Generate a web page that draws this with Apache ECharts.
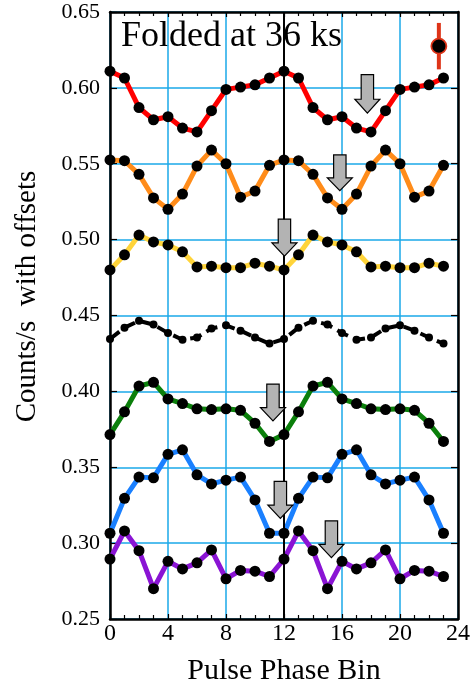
<!DOCTYPE html>
<html>
<head>
<meta charset="utf-8">
<script src="https://cdn.jsdelivr.net/npm/echarts@6/dist/echarts.min.js"></script>
<style>
html,body{margin:0;padding:0;background:#fff;}
#chart{width:473px;height:691px;}
</style>
</head>
<body>
<div id="chart"></div>
<script>
// ---- data ----
const bins = [0,1,2,3,4,5,6,7,8,9,10,11,12,13,14,15,16,17,18,19,20,21,22,23];
const xTicks = [0,4,8,12,16,20,24];
const yTicks = [0.25,0.30,0.35,0.40,0.45,0.50,0.55,0.60,0.65];

const redVals    = [0.611,0.6065,0.587,0.579,0.581,0.5735,0.571,0.585,0.599,0.6005,0.602,0.6065,
                    0.611,0.6065,0.587,0.579,0.581,0.5735,0.571,0.585,0.599,0.6005,0.602,0.6065];
const orangeVals = [0.5525,0.552,0.543,0.5275,0.520,0.530,0.5485,0.559,0.550,0.528,0.532,0.549,
                    0.5525,0.552,0.543,0.5275,0.520,0.530,0.5485,0.559,0.550,0.528,0.532,0.549];
const yellowVals = [0.480,0.490,0.503,0.4985,0.4965,0.492,0.482,0.4825,0.4815,0.4815,0.4845,0.4825,
                    0.480,0.490,0.503,0.4985,0.4965,0.492,0.482,0.4825,0.4815,0.4815,0.4845,0.4825];
const blackVals  = [0.4345,0.442,0.4465,0.444,0.4385,0.434,0.4355,0.4415,0.4435,0.440,0.4355,0.4315,
                    0.4345,0.442,0.4465,0.444,0.4385,0.434,0.4355,0.4415,0.4435,0.440,0.4355,0.4315];
const greenVals  = [0.3715,0.3865,0.4035,0.406,0.395,0.392,0.3885,0.388,0.3885,0.3875,0.379,0.367,
                    0.3715,0.3865,0.4035,0.406,0.395,0.392,0.3885,0.388,0.3885,0.3875,0.379,0.367];
const blueVals   = [0.3065,0.3295,0.3435,0.343,0.3585,0.3615,0.345,0.339,0.3415,0.3435,0.3285,0.3065,
                    0.3065,0.3295,0.3435,0.343,0.3585,0.3615,0.345,0.339,0.3415,0.3435,0.3285,0.3065];
const purpleVals = [0.2895,0.308,0.295,0.270,0.288,0.283,0.287,0.2955,0.2765,0.282,0.2815,0.278,
                    0.2895,0.308,0.295,0.270,0.288,0.283,0.287,0.2955,0.2765,0.282,0.2815,0.278];

// grey arrows: bin position, value at the top of the shaft, value at the tip
const arrowBin = [17.75, 15.85, 12.03, 11.24, 11.75, 15.27];
const arrowTop = [0.6087, 0.5558, 0.5135, 0.4048, 0.3407, 0.3146];
const arrowTip = [0.5834, 0.5322, 0.4891, 0.3806, 0.3163, 0.2904];

// typical error bar point
const errBin = [22.68];
const errVal = [0.6275];
const errHalf = [0.0153];

const titleText = 'Folded at 36 ks';
const xName = 'Pulse Phase Bin';
const yName = 'Counts/s  with offsets';

// ---- chart ----
const FONT = '"Liberation Serif", "DejaVu Serif", serif';
const GRIDC = '#1aa9e8';
const chart = echarts.init(document.getElementById('chart'), null, {renderer:'canvas'});

function lineSeries(vals, color, dashed, symSize) {
  return {
    type:'line',
    xAxisIndex:0, yAxisIndex:0,
    data: bins.map((b,i)=>[b, vals[i]]),
    symbol:'circle',
    symbolSize: symSize || 11,
    showSymbol:true,
    itemStyle:{color:'#000', borderWidth:0},
    lineStyle:{color: color, width: dashed ? 4 : 5, type: dashed ? [12,6] : 'solid'},
    z: 3,
    animation:false
  };
}

const series = [
  lineSeries(redVals, '#ff0000'),
  lineSeries(orangeVals, '#ff8c1a'),
  lineSeries(yellowVals, '#ffd43a'),
  lineSeries(blackVals, '#000000', true, 8),
  lineSeries(greenVals, '#0b7f0b'),
  lineSeries(blueVals, '#1a80ff'),
  lineSeries(purpleVals, '#8a14d4')
];
series[0].markLine = {
  silent:true, symbol:'none', animation:false,
  label:{show:false},
  lineStyle:{color:'#000', width:2, type:'solid'},
  data:[{xAxis:12}]
};

series.push({
  type:'custom',
  xAxisIndex:0, yAxisIndex:0,
  z: 10,
  data: arrowBin.map((b,i)=>[b, arrowTop[i], arrowTip[i]]),
  renderItem: function(params, api){
    const top = api.coord([api.value(0), api.value(1)]);
    const tip = api.coord([api.value(0), api.value(2)]);
    const cx = top[0];
    const len = tip[1]-top[1];
    const hs = tip[1] - len*0.36;
    const sw = 6.2, hw = 12.5;
    return {
      type:'polygon',
      shape:{points:[[cx-sw,top[1]],[cx+sw,top[1]],[cx+sw,hs],[cx+hw,hs],[cx,tip[1]],[cx-hw,hs],[cx-sw,hs]]},
      style:{fill:'#b3b3b3', stroke:'#000', lineWidth:1.2}
    };
  },
  animation:false
});

series.push({
  type:'custom',
  xAxisIndex:0, yAxisIndex:0,
  z: 10,
  data: errBin.map((b,i)=>[b, errVal[i], errHalf[i]]),
  renderItem: function(params, api){
    const c = api.coord([api.value(0), api.value(1)]);
    const lo = api.coord([api.value(0), api.value(1)-api.value(2)]);
    const hi = api.coord([api.value(0), api.value(1)+api.value(2)]);
    return {
      type:'group',
      children:[
        {type:'line', shape:{x1:c[0],y1:lo[1],x2:c[0],y2:hi[1]}, style:{stroke:'#de3418', lineWidth:4}},
        {type:'circle', shape:{cx:c[0],cy:c[1],r:7.5}, style:{fill:'#000', stroke:'#de3418', lineWidth:1.8}}
      ]
    };
  },
  animation:false
});

const option = {
  animation:false,
  backgroundColor:'#fff',
  grid:{left:110, right:14, top:12, bottom:67, containLabel:false},
  graphic:[{
    type:'text', left:121, top:19,
    style:{text:titleText, font:'36px ' + FONT, fill:'#000'}
  }],
  xAxis:[{
    type:'value', position:'bottom',
    min:xTicks[0], max:xTicks[xTicks.length-1], interval:xTicks[1]-xTicks[0],
    name:xName, nameLocation:'middle', nameGap:37,
    nameTextStyle:{fontFamily:FONT, fontSize:30, color:'#000'},
    axisLine:{show:true, onZero:false, lineStyle:{color:'#000', width:2.5}},
    axisTick:{show:true, inside:true, length:5, lineStyle:{color:'#000', width:1.2}},
    minorTick:{show:true, splitNumber:4, length:4, lineStyle:{color:'#000', width:1.2}},
    axisLabel:{show:true, margin:3, fontFamily:FONT, fontSize:24, color:'#000'},
    splitLine:{show:true, lineStyle:{color:GRIDC, width:1.5}}
  },{
    type:'value', position:'top',
    min:xTicks[0], max:xTicks[xTicks.length-1], interval:xTicks[1]-xTicks[0],
    axisLine:{show:true, onZero:false, lineStyle:{color:'#000', width:2.5}},
    axisTick:{show:true, inside:true, length:5, lineStyle:{color:'#000', width:1.2}},
    minorTick:{show:true, splitNumber:4, length:4, lineStyle:{color:'#000', width:1.2}},
    axisLabel:{show:false},
    splitLine:{show:false}
  }],
  yAxis:[{
    type:'value', position:'left',
    min:yTicks[0], max:yTicks[yTicks.length-1], interval:0.05,
    name:yName, nameLocation:'middle', nameGap:68, nameRotate:90,
    nameTextStyle:{fontFamily:FONT, fontSize:29, color:'#000', padding:[0,0,0,38]},
    axisLine:{show:true, onZero:false, lineStyle:{color:'#000', width:2.5}},
    axisTick:{show:true, inside:true, length:7, lineStyle:{color:'#000', width:1.2}},
    axisLabel:{show:true, margin:10, fontFamily:FONT, fontSize:22, color:'#000',
      formatter: v => v.toFixed(2)},
    splitLine:{show:true, lineStyle:{color:GRIDC, width:1.5}}
  },{
    type:'value', position:'right',
    min:yTicks[0], max:yTicks[yTicks.length-1], interval:0.05,
    axisLine:{show:true, onZero:false, lineStyle:{color:'#000', width:2.5}},
    axisTick:{show:true, inside:true, length:7, lineStyle:{color:'#000', width:1.2}},
    axisLabel:{show:false},
    splitLine:{show:false}
  }],
  series: series
};
chart.setOption(option);
</script>
</body>
</html>
